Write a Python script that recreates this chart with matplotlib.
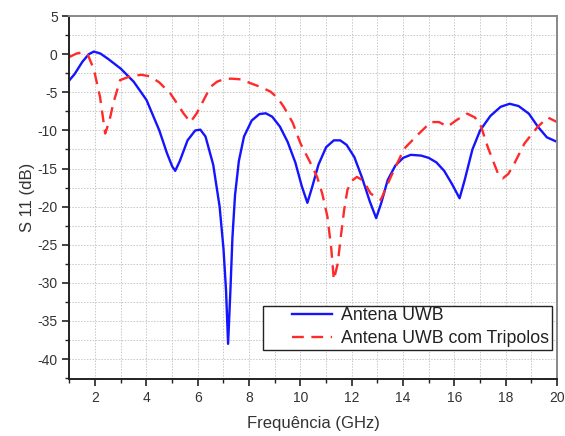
import matplotlib
matplotlib.use("Agg")
import matplotlib.pyplot as plt
from matplotlib.ticker import MultipleLocator
from matplotlib.patches import Rectangle

plt.rcParams['font.family'] = ['Liberation Sans', 'DejaVu Sans']

# Antena UWB (solid blue)
uwb_f = [1.0, 1.2, 1.5, 1.75, 1.95, 2.2, 2.5, 3.0, 3.5, 4.0, 4.5, 4.8, 5.0, 5.12, 5.3, 5.6,
         5.9, 6.1, 6.3, 6.6, 6.85, 7.0, 7.1, 7.18, 7.27, 7.35, 7.45, 7.6, 7.8, 8.1, 8.4,
         8.65, 8.9, 9.2, 9.5, 9.8, 10.05, 10.27, 10.45, 10.7, 11.0, 11.3, 11.55, 11.8,
         12.1, 12.4, 12.7, 12.95, 13.15, 13.4, 13.7, 14.0, 14.3, 14.7, 15.0, 15.3, 15.6,
         15.9, 16.2, 16.4, 16.7, 17.0, 17.4, 17.8, 18.15, 18.5, 18.9, 19.25, 19.6, 20.0]
uwb_s11 = [-3.4, -2.6, -1.0, 0.0, 0.35, 0.1, -0.6, -1.9, -3.6, -6.0, -10.0, -13.0, -14.7,
           -15.3, -14.0, -11.3, -10.0, -9.9, -10.8, -14.5, -20.0, -25.5, -31.0, -38.0,
           -31.0, -24.0, -18.5, -14.0, -10.8, -8.7, -7.85, -7.75, -8.2, -9.5, -11.5, -14.2,
           -17.3, -19.5, -17.5, -14.5, -12.2, -11.3, -11.3, -11.9, -13.5, -16.2, -19.3,
           -21.5, -19.5, -16.5, -14.6, -13.6, -13.2, -13.3, -13.6, -14.2, -15.3, -17.0,
           -18.9, -16.5, -12.5, -10.0, -8.1, -6.9, -6.5, -6.8, -7.8, -9.5, -10.9, -11.5]

# Antena UWB com Tripolos (dashed red)
tri_f = [1.0, 1.28, 1.5, 1.72, 1.95, 2.19, 2.39, 2.55, 2.71, 2.97, 3.36, 3.8, 4.14, 4.5,
         4.93, 5.2, 5.45, 5.71, 5.95, 6.23, 6.49, 6.75, 7.0, 7.3, 7.7, 8.05, 8.45, 8.83,
         9.1, 9.35, 9.7, 10.0, 10.35, 10.65, 10.85, 11.05, 11.2, 11.3, 11.45, 11.57, 11.7,
         11.83, 12.0, 12.2, 12.45, 12.74, 13.13, 13.52, 14.04, 14.56, 15.08, 15.4, 15.73,
         16.1, 16.5, 16.8, 17.04, 17.3, 17.69, 17.88, 18.1, 18.34, 18.73, 19.25, 19.64, 20.0]
tri_s11 = [-0.35, 0.1, 0.25, -0.1, -2.0, -5.6, -10.4, -8.8, -6.4, -3.4, -2.9, -2.7, -2.9,
           -3.7, -5.15, -6.5, -7.8, -8.9, -7.8, -6.0, -4.3, -3.6, -3.3, -3.2, -3.3, -3.8,
           -4.3, -4.9, -5.7, -6.9, -9.0, -11.7, -14.0, -16.1, -18.3, -21.3, -25.5, -29.6,
           -27.5, -24.0, -20.5, -17.8, -16.6, -16.1, -16.6, -18.3, -19.1, -16.1, -12.4,
           -10.6, -8.9, -8.9, -9.5, -8.6, -7.8, -8.3, -9.5, -12.2, -15.6, -16.3, -15.7,
           -14.3, -11.7, -9.5, -8.3, -8.9]

x_ticks = [2, 4, 6, 8, 10, 12, 14, 16, 18, 20]
y_ticks = [5, 0, -5, -10, -15, -20, -25, -30, -35, -40]

fig = plt.figure(figsize=(5.65, 4.36), dpi=100)
ax = fig.add_axes([0.123, 0.131, 0.863, 0.832])

ax.plot(uwb_f, uwb_s11, color='#1414ff', lw=1.7, label='Antena UWB')
ax.plot(tri_f, tri_s11, color='#ff2a2a', lw=1.7, dashes=(5, 3.2), label='Antena UWB com Tripolos')

ax.set_xlim(1, 20)
ax.set_ylim(-42.6, 5)
ax.set_xticks(x_ticks)
ax.set_yticks(y_ticks)
ax.set_yticklabels([str(v) for v in y_ticks])
ax.xaxis.set_minor_locator(MultipleLocator(1))
ax.yaxis.set_minor_locator(MultipleLocator(2.5))
ax.tick_params(which='major', direction='out', length=5, width=1.2, labelsize=10, color='#222222', labelcolor='#333333')
ax.tick_params(which='minor', direction='out', length=3, width=1.0, color='#222222')
ax.tick_params(top=False, right=False, which='both')
ax.grid(True, which='both', color='#c8c8c8', linestyle=(0, (1.5, 1.5)), linewidth=0.7)

for s in ['left', 'bottom']:
    ax.spines[s].set_color('#222222')
    ax.spines[s].set_linewidth(1.4)
for s in ['top', 'right']:
    ax.spines[s].set_color('#888888')
    ax.spines[s].set_linewidth(1.4)

ax.set_xlabel('Frequência (GHz)', fontsize=12, color='#333333', labelpad=8)
ax.set_ylabel('S 11 (dB)', fontsize=12, color='#333333', labelpad=2)

# legend box (drawn separately to match the wide left padding)
box = Rectangle((0.397, 0.080), 0.593, 0.121, transform=ax.transAxes, facecolor='white',
                edgecolor='#222222', linewidth=1.0, zorder=4)
ax.add_patch(box)
leg = ax.legend(loc='upper left', bbox_to_anchor=(0.456, 0.197), fontsize=12.8, frameon=False,
                handlelength=2.25, borderpad=0, labelspacing=0.32, handletextpad=0.5,
                borderaxespad=0)
leg.set_zorder(5)
for t in leg.get_texts():
    t.set_color('#222222')

fig.savefig('out.png', dpi=100)
